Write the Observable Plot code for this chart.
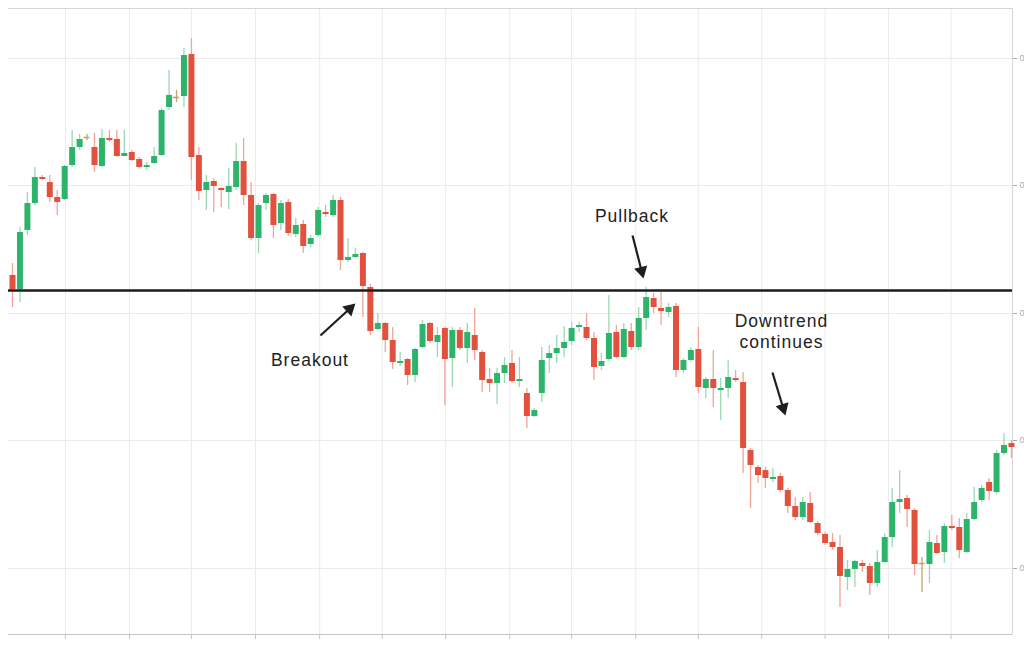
<!DOCTYPE html>
<html>
<head>
<meta charset="utf-8">
<script src="https://cdn.jsdelivr.net/npm/d3@7"></script>
<script src="https://cdn.jsdelivr.net/npm/@observablehq/plot@0.6"></script>
<style>
  html, body { margin: 0; padding: 0; background: #fff; }
</style>
</head>
<body>
<div id="chart"></div>
<script>
const opens = [
  .7325,.7311,.7370,.7397,.7423,.7418,.7403,.7401,.7435,.7453,
  .7463,.7453,.7434,.7462,.7461,.7444,.7448,.7441,.7433,.7437,
  .7445,.7493,.7503,.7504,.7546,.7445,.7410,.7419,.7412,.7408,
  .7413,.7439,.7405,.7362,.7397,.7406,.7377,.7398,.7366,.7376,
  .7356,.7365,.7388,.7385,.7400,.7340,.7343,.7347,.7313,.7271,
  .7277,.7260,.7237,.7241,.7225,.7253,.7277,.7258,.7272,.7242,
  .7270,.7252,.7265,.7248,.7221,.7217,.7227,.7237,.7219,.7207,
  .7184,.7207,.7242,.7247,.7252,.7259,.7273,.7273,.7262,.7234,
  .7241,.7268,.7243,.7269,.7253,.7282,.7302,.7292,.7288,.7294,
  .7230,.7240,.7251,.7212,.7221,.7210,.7212,.7222,.7218,.7150,
  .7133,.7130,.7121,.7124,.7110,.7094,.7083,.7097,.7077,.7066,
  .7058,.7053,.7023,.7031,.7037,.7034,.7017,.7038,.7063,.7098,
  .7102,.7090,.7037,.7036,.7057,.7048,.7074,.7073,.7048,.7081,
  .7100,.7118,.7108,.7147,.7157
];
const highs = [
  .7337,.7373,.7408,.7433,.7425,.7425,.7410,.7435,.7470,.7466,
  .7466,.7467,.7471,.7470,.7470,.7470,.7450,.7443,.7438,.7453,
  .7492,.7530,.7510,.7552,.7562,.7453,.7425,.7422,.7413,.7432,
  .7457,.7462,.7418,.7397,.7407,.7407,.7400,.7401,.7382,.7380,
  .7365,.7393,.7395,.7405,.7403,.7362,.7352,.7348,.7316,.7287,
  .7278,.7273,.7248,.7242,.7252,.7280,.7278,.7273,.7273,.7273,
  .7273,.7277,.7292,.7250,.7232,.7232,.7243,.7250,.7243,.7212,
  .7192,.7253,.7255,.7265,.7274,.7278,.7278,.7287,.7268,.7247,
  .7305,.7275,.7277,.7277,.7293,.7313,.7307,.7308,.7297,.7297,
  .7242,.7253,.7273,.7223,.7250,.7222,.7240,.7230,.7228,.7152,
  .7135,.7133,.7132,.7127,.7112,.7103,.7103,.7108,.7079,.7068,
  .7067,.7065,.7040,.7040,.7040,.7037,.7050,.7067,.7112,.7130,
  .7105,.7092,.7043,.7070,.7065,.7077,.7085,.7082,.7087,.7113,
  .7115,.7122,.7150,.7167,.7160
];
const lows = [
  .7293,.7298,.7365,.7395,.7420,.7398,.7385,.7400,.7433,.7450,
  .7460,.7428,.7433,.7458,.7443,.7444,.7439,.7432,.7430,.7436,
  .7444,.7490,.7498,.7493,.7420,.7400,.7390,.7388,.7393,.7391,
  .7410,.7395,.7360,.7347,.7390,.7362,.7370,.7364,.7363,.7347,
  .7353,.7363,.7383,.7383,.7330,.7338,.7342,.7283,.7265,.7270,
  .7248,.7231,.7234,.7215,.7218,.7252,.7257,.7243,.7195,.7213,
  .7250,.7237,.7240,.7208,.7208,.7196,.7217,.7217,.7213,.7172,
  .7183,.7198,.7227,.7237,.7243,.7255,.7268,.7260,.7220,.7230,
  .7239,.7242,.7242,.7250,.7250,.7270,.7287,.7275,.7283,.7223,
  .7227,.7238,.7207,.7202,.7193,.7180,.7202,.7218,.7127,.7092,
  .7117,.7112,.7118,.7108,.7087,.7080,.7080,.7077,.7065,.7055,
  .7050,.6993,.7010,.7013,.7028,.7005,.7013,.7037,.7053,.7087,
  .7073,.7025,.7008,.7017,.7046,.7037,.7070,.7042,.7047,.7080,
  .7098,.7100,.7106,.7145,.7142
];
const closes = [
  .7311,.7368,.7397,.7423,.7421,.7403,.7398,.7434,.7453,.7461,
  .7463,.7435,.7462,.7460,.7444,.7447,.7440,.7433,.7435,.7444,
  .7490,.7505,.7503,.7545,.7443,.7409,.7418,.7414,.7410,.7414,
  .7439,.7405,.7362,.7395,.7405,.7375,.7397,.7367,.7375,.7354,
  .7362,.7390,.7386,.7400,.7340,.7343,.7346,.7314,.7269,.7277,
  .7260,.7238,.7239,.7225,.7251,.7276,.7259,.7265,.7241,.7270,
  .7252,.7268,.7250,.7220,.7217,.7227,.7235,.7219,.7221,.7184,
  .7190,.7240,.7247,.7252,.7258,.7272,.7275,.7262,.7233,.7239,
  .7267,.7243,.7271,.7253,.7282,.7303,.7293,.7289,.7293,.7230,
  .7240,.7250,.7213,.7221,.7212,.7212,.7223,.7220,.7152,.7135,
  .7125,.7122,.7123,.7110,.7094,.7083,.7098,.7078,.7067,.7057,
  .7053,.7024,.7031,.7039,.7034,.7017,.7038,.7063,.7098,.7101,
  .7091,.7036,.7037,.7058,.7047,.7074,.7072,.7050,.7081,.7098,
  .7112,.7109,.7147,.7155,.7153
];

// support / resistance level
const level = [0.7310];

// price grid / right-axis ticks
const yTicks = [0.7032, 0.7160, 0.7287, 0.7415, 0.7542];
// time grid positions (bar index)
const xTicks = [7.1, 15.7, 24.0, 32.6, 41.2, 49.6, 58.1, 66.7, 75.0, 83.6, 92.0, 100.5, 109.0, 117.5, 125.9];

const xDomain = [-0.537, 134.14];
const yDomain = [0.6966, 0.7592];

const labels = [
  {text: "Breakout", x: 39.9, y: 0.72416},
  {text: "Pullback", x: 83.1, y: 0.73856},
  {text: "Downtrend\ncontinues", x: 103.15, y: 0.72702}
];
const arrows = [
  {x1: 41.31, y1: 0.7265, x2: 45.23, y2: 0.72917, angle: 47.6},
  {x1: 83.17, y1: 0.7365, x2: 84.39, y2: 0.73296, angle: 165.7},
  {x1: 101.94, y1: 0.7228, x2: 103.38, y2: 0.71925, angle: 163.2}
];

const GREEN = "#2db46b", RED = "#e2513d", TAN = "#bfa66f";
const GREEN_WICK = "#9ad9b4", RED_WICK = "#f2a497";

const candles = opens.map((o, i) => ({i, open: o, high: highs[i], low: lows[i], close: closes[i]}));
const ups = candles.filter(d => d.close > d.open);
const downs = candles.filter(d => d.close < d.open);
const flats = candles.filter(d => d.close === d.open);

const chart = Plot.plot({
  width: 1024,
  height: 648,
  marginLeft: 8,
  marginRight: 12,
  marginTop: 8,
  marginBottom: 14,
  x: {domain: xDomain, axis: null},
  y: {domain: yDomain, axis: null},
  style: {fontFamily: "'Liberation Sans', Arial, sans-serif", fontSize: "9px", background: "#fff"},
  marks: [
    Plot.gridX(xTicks, {stroke: "#ebebeb", strokeOpacity: 1}),
    Plot.gridY(yTicks, {stroke: "#ebebeb", strokeOpacity: 1}),
    Plot.ruleY([yDomain[1]], {stroke: "#d6d6d6"}),
    Plot.ruleX([xDomain[1]], {stroke: "#d6d6d6"}),
    Plot.ruleY([yDomain[0]], {stroke: "#c4c4c4"}),
    Plot.axisX(xTicks, {anchor: "bottom", tickSize: 5, tickFormat: () => "", stroke: "#c4c4c4"}),
    Plot.axisY(yTicks, {anchor: "right", tickSize: 4, tickPadding: 3, tickFormat: d3.format(".4f"), color: "#aaa"}),
    Plot.ruleX(ups, {x: "i", y1: "low", y2: "high", stroke: GREEN_WICK, strokeWidth: 1.3}),
    Plot.ruleX(downs, {x: "i", y1: "low", y2: "high", stroke: RED_WICK, strokeWidth: 1.3}),
    Plot.ruleX(flats, {x: "i", y1: "low", y2: "high", stroke: TAN, strokeWidth: 1.3}),
    Plot.ruleX(ups, {x: "i", y1: "open", y2: "close", stroke: GREEN, strokeWidth: 6}),
    Plot.ruleX(downs, {x: "i", y1: "open", y2: "close", stroke: RED, strokeWidth: 6}),
    Plot.ruleY(flats, {y: "open", x1: d => d.i - 0.4, x2: d => d.i + 0.4, stroke: TAN, strokeWidth: 1.6}),
    Plot.ruleY(level, {stroke: "#1c1c1c", strokeWidth: 2.5}),
    Plot.link(arrows, {x1: "x1", y1: "y1", x2: "x2", y2: "y2", stroke: "#1e1e1e", strokeWidth: 2.2}),
    Plot.dot(arrows, {x: "x2", y: "y2", symbol: "triangle", r: 5, fill: "#1e1e1e", stroke: "none", rotate: "angle"}),
    Plot.text(labels, {x: "x", y: "y", text: "text", fontSize: 17.5, fill: "#222", lineHeight: 1.2, textAnchor: "middle"})
  ]
});

d3.select(chart).selectAll('g[aria-label="text"] text').attr("letter-spacing", "1px");
document.getElementById("chart").appendChild(chart);
</script>
</body>
</html>
